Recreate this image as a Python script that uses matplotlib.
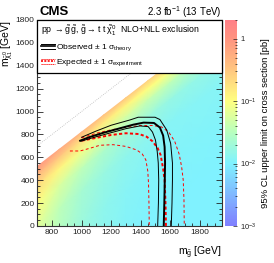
import matplotlib
matplotlib.use('Agg')
import matplotlib.pyplot as plt
import numpy as np
from matplotlib.colors import LinearSegmentedColormap, LogNorm
from matplotlib.legend_handler import HandlerBase
from matplotlib.lines import Line2D
from matplotlib.ticker import MultipleLocator, FixedLocator, FuncFormatter, NullFormatter

plt.rcParams['font.family'] = ['Liberation Sans', 'DejaVu Sans']
plt.rcParams['mathtext.fontset'] = 'custom'
plt.rcParams['mathtext.rm'] = 'Liberation Sans'
plt.rcParams['mathtext.it'] = 'Liberation Sans'
plt.rcParams['mathtext.bf'] = 'Liberation Sans:bold'

# ---------------- data ----------------
# upper limit map on a (gluino mass, mass splitting) grid, in pb
mg_grid = [700, 850, 1000, 1150, 1300, 1450, 1600, 1750, 1950]
dm_grid = [180, 250, 350, 500, 700, 1000, 1400, 1950]
limit_pb = [
    [0.90, 0.60, 0.45, 0.35, 0.30, 0.25, 0.22, 0.20, 0.18],
    [0.45, 0.30, 0.20, 0.15, 0.12, 0.10, 0.09, 0.08, 0.07],
    [0.20, 0.12, 0.08, 0.06, 0.05, 0.04, 0.035, 0.03, 0.03],
    [0.10, 0.055, 0.035, 0.025, 0.020, 0.018, 0.016, 0.015, 0.015],
    [0.065, 0.035, 0.022, 0.017, 0.014, 0.013, 0.012, 0.012, 0.012],
    [0.050, 0.028, 0.018, 0.014, 0.012, 0.011, 0.011, 0.011, 0.011],
    [0.045, 0.025, 0.016, 0.013, 0.011, 0.010, 0.010, 0.010, 0.010],
    [0.045, 0.025, 0.016, 0.013, 0.011, 0.010, 0.010, 0.010, 0.010],
]

obs_x = [990, 1050, 1150, 1250, 1350, 1420, 1490, 1530, 1552, 1562, 1565, 1563, 1560, 1556]
obs_y = [745, 775, 815, 850, 885, 903, 900, 860, 790, 690, 550, 400, 200, 0]
obs_up_x = [1000, 1100, 1200, 1327, 1383, 1497, 1530, 1576, 1603, 1615, 1615, 1612, 1607]
obs_up_y = [775, 830, 880, 926, 950, 950, 930, 839, 720, 550, 400, 200, 0]
obs_dn_x = [995, 1100, 1200, 1300, 1395, 1451, 1480, 1500, 1512, 1519, 1522, 1520, 1515]
obs_dn_y = [740, 780, 815, 850, 874, 868, 820, 751, 650, 550, 400, 200, 0]

exp_x = [1000, 1100, 1200, 1300, 1390, 1440, 1480, 1515, 1535, 1552, 1562, 1568, 1571]
exp_y = [745, 770, 795, 810, 803, 780, 740, 680, 620, 500, 400, 200, 0]
exp_up_x = [1000, 1100, 1200, 1300, 1400, 1480, 1540, 1590, 1630, 1660, 1677, 1688, 1693, 1695]
exp_up_y = [770, 810, 840, 862, 878, 878, 866, 820, 740, 630, 518, 400, 227, 0]
exp_dn_x = [921, 989, 1057, 1124, 1214, 1300, 1373, 1410, 1435, 1448, 1453, 1456, 1458]
exp_dn_y = [655, 655, 679, 705, 710, 695, 664, 630, 577, 480, 373, 200, 0]

diag_x = [700, 1800]
diag_y = [700, 1800]

cbar_ticks = [1e-3, 1e-2, 1e-1, 1]

# ---------------- figure ----------------
fig = plt.figure(figsize=(2.74, 2.63), dpi=100)
ax = fig.add_axes([0.136, 0.141, 0.674, 0.783])
cax = fig.add_axes([0.821, 0.141, 0.044, 0.783])

cmap = LinearSegmentedColormap.from_list('pal', [
    (0.000, (0.50, 0.50, 1.00)),
    (0.1515, (0.50, 0.72, 1.00)),
    (0.303, (0.50, 0.95, 1.00)),
    (0.454, (0.72, 1.00, 0.75)),
    (0.606, (1.00, 1.00, 0.50)),
    (0.757, (1.00, 0.78, 0.50)),
    (0.909, (1.00, 0.58, 0.50)),
    (1.000, (1.00, 0.50, 0.53)),
])
norm = LogNorm(1e-3, 2)

MG = np.tile(np.array(mg_grid, float), (len(dm_grid), 1))
MY = MG - np.array(dm_grid, float)[:, None]
mesh = ax.pcolormesh(MG, MY, np.array(limit_pb), cmap=cmap, norm=norm,
                     shading='gouraud', zorder=1)

ax.plot(diag_x, diag_y, color='#bbbbbb', lw=0.6, ls=(0, (1, 1.5)), zorder=2)

ax.plot(exp_dn_x, exp_dn_y, color='red', lw=0.7, ls=(0, (3, 2.5)), zorder=3)
ax.plot(exp_up_x, exp_up_y, color='red', lw=0.7, ls=(0, (3, 2.5)), zorder=3)
ax.plot(exp_x, exp_y, color='red', lw=1.4, ls=(0, (1.6, 1.2)), zorder=3)
ax.plot(obs_dn_x, obs_dn_y, color='black', lw=0.7, zorder=4)
ax.plot(obs_up_x, obs_up_y, color='black', lw=0.7, zorder=4)
ax.plot(obs_x, obs_y, color='black', lw=1.4, zorder=4)

ax.set_xlim(700, 1950)
ax.set_ylim(0, 1800)
ax.xaxis.set_major_locator(MultipleLocator(200))
ax.xaxis.set_minor_locator(MultipleLocator(50))
ax.yaxis.set_major_locator(MultipleLocator(200))
ax.yaxis.set_minor_locator(MultipleLocator(50))
ax.tick_params(which='both', direction='in', top=True, right=True, width=0.6,
               labelsize=6, pad=2, colors='#222222')
ax.tick_params(which='major', length=4.0)
ax.tick_params(which='minor', length=2.0)
for s in ax.spines.values():
    s.set_linewidth(0.8)
    s.set_color('#333333')

ax.set_xlabel(r'm$_{\tilde{g}}$ [GeV]', fontsize=7.5, loc='right', labelpad=2)
ax.set_ylabel(r'm$_{\tilde{\chi}^{0}_{1}}$ [GeV]', fontsize=7.5, loc='top')
ax.yaxis.set_label_coords(-0.12, 1.0)
ax.xaxis.set_label_coords(1.0, -0.09)


class TripleLine(HandlerBase):
    def __init__(self, color, dashed):
        super().__init__()
        self.color = color
        self.dashed = dashed

    def create_artists(self, legend, orig_handle, xdescent, ydescent, width,
                       height, fontsize, trans):
        arts = []
        for frac, lw in ((0.95, 0.7), (0.5, 1.2), (0.05, 0.7)):
            y = -ydescent + frac * height
            ls = (0, (1.2, 0.8)) if self.dashed else '-'
            arts.append(Line2D([-xdescent, -xdescent + width], [y, y],
                               color=self.color, lw=lw, ls=ls, transform=trans))
        return arts


h_obs = Line2D([], [], color='black')
h_exp = Line2D([], [], color='red')
leg = ax.legend([h_obs, h_exp],
                [r'Observed $\pm$ 1 $\sigma_{\mathrm{theory}}$',
                 r'Expected $\pm$ 1 $\sigma_{\mathrm{experiment}}$'],
                handler_map={h_obs: TripleLine('black', False),
                             h_exp: TripleLine('red', True)},
                title=r'pp $\rightarrow\tilde{g}\,\tilde{g}$, $\tilde{g}\rightarrow$t t $\tilde{\chi}^{0}_{1}$  NLO+NLL exclusion',
                loc='upper left', bbox_to_anchor=(0, 0, 1, 1), mode='expand',
                fontsize=6, title_fontsize=6.3, frameon=True, fancybox=False,
                edgecolor='black', framealpha=1, borderaxespad=0,
                handlelength=1.6, handletextpad=0.2, labelspacing=0.5,
                borderpad=0.5, alignment='left')
leg.get_frame().set_linewidth(0.9)
leg.set_zorder(10)

cb = fig.colorbar(mesh, cax=cax)
cb.outline.set_visible(False)
cax.yaxis.set_major_locator(FixedLocator(cbar_ticks))
cax.yaxis.set_major_formatter(FuncFormatter(
    lambda v, p: '1' if abs(v - 1) < 1e-9 else r'10$^{%d}$' % round(np.log10(v))))
cax.yaxis.set_minor_formatter(NullFormatter())
cax.tick_params(which='both', direction='in', labelsize=5.5, pad=2.5, width=0.5,
                colors='#222222')
cax.tick_params(which='major', length=3)
cax.tick_params(which='minor', length=1.5)
cax.set_ylabel('95% CL upper limit on cross section [pb]', fontsize=6.8, labelpad=3)

fig.text(40 / 274, 1 - 12 / 263, 'CMS', fontsize=9.5, fontweight='bold',
         ha='left', va='center')
fig.text(222 / 274, 1 - 12 / 263, r'2.3 fb$^{-1}$ (13 TeV)', fontsize=7,
         ha='right', va='center')

fig.savefig('out.png', dpi=100)
